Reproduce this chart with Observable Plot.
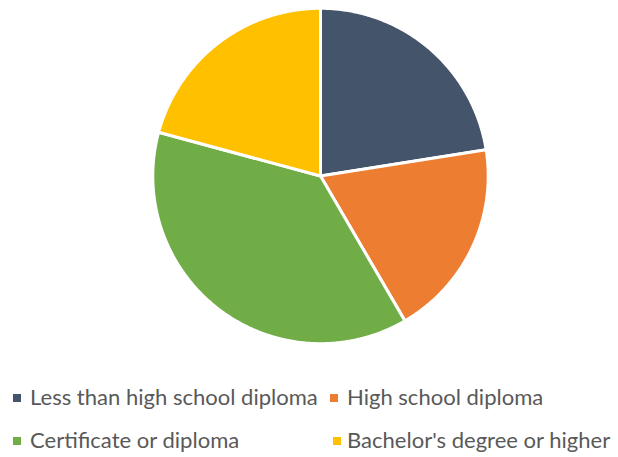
<!DOCTYPE html>
<html>
<head>
<meta charset="utf-8">
<script src="https://cdn.jsdelivr.net/npm/d3@7"></script>
<script src="https://cdn.jsdelivr.net/npm/@observablehq/plot@0.6"></script>
<style>
  html, body { margin: 0; padding: 0; background: #fff; }
  #wrap { position: relative; width: 618px; height: 457px; overflow: hidden; }
  #chart { position: absolute; left: 0; top: 0; }
  .leg { position: absolute; font-family: Lato, "Open Sans", sans-serif; color: #595959; white-space: nowrap; line-height: 1; }
  .sw { position: absolute; width: 8px; height: 8px; }
</style>
</head>
<body>
<div id="wrap"><div id="chart"></div></div>
<script>
const categories = ["Less than high school diploma", "High school diploma", "Certificate or diploma", "Bachelor's degree or higher"];
const shares = [22.5, 19.1, 37.6, 20.8];
const colors = ["#44546A", "#ED7D31", "#70AD47", "#FFC000"];

const W = 618, H = 360, cx = 320, cy = 175.5, R = 167.7;

const total = d3.sum(shares);
const rows = [];
let acc = 0;
categories.forEach((c, i) => {
  const a0 = acc / total * 2 * Math.PI;
  acc += shares[i];
  const a1 = acc / total * 2 * Math.PI;
  const n = Math.max(2, Math.ceil((a1 - a0) / (Math.PI / 360)));
  rows.push({cat: c, x: 0, y: 0});
  for (let k = 0; k <= n; k++) {
    const a = a0 + (a1 - a0) * k / n;
    rows.push({cat: c, x: Math.sin(a), y: Math.cos(a)});
  }
  rows.push({cat: c, x: 0, y: 0});
});

const plot = Plot.plot({
  width: W, height: H,
  margin: 0,
  x: {domain: [-cx / R, (W - cx) / R], axis: null},
  y: {domain: [-(H - cy) / R, cy / R], axis: null},
  color: {domain: categories, range: colors},
  marks: [
    Plot.line(rows, {x: "x", y: "y", z: "cat", fill: "cat", stroke: "#fff", strokeWidth: 3, strokeLinejoin: "round", curve: "linear"})
  ]
});
document.getElementById("chart").appendChild(plot);

// legend
const wrap = document.getElementById("wrap");
const ctx = document.createElement("canvas").getContext("2d");
ctx.font = "100px Lato";
const fs = 288 / ctx.measureText(categories[0]).width * 100;
const pos = [[13, 30, 398], [330, 347, 398], [13, 30, 441], [333, 347, 441]];
categories.forEach((c, i) => {
  const [sx, tx, y] = pos[i];
  const sw = document.createElement("div");
  sw.className = "sw";
  sw.style.left = sx + "px"; sw.style.top = (y - 4) + "px";
  sw.style.background = colors[i];
  wrap.appendChild(sw);
  const t = document.createElement("div");
  t.className = "leg";
  t.style.fontSize = fs + "px";
  t.textContent = c;
  t.style.left = tx + "px";
  t.style.top = (y - fs * 0.55) + "px";
  wrap.appendChild(t);
});
</script>
</body>
</html>
